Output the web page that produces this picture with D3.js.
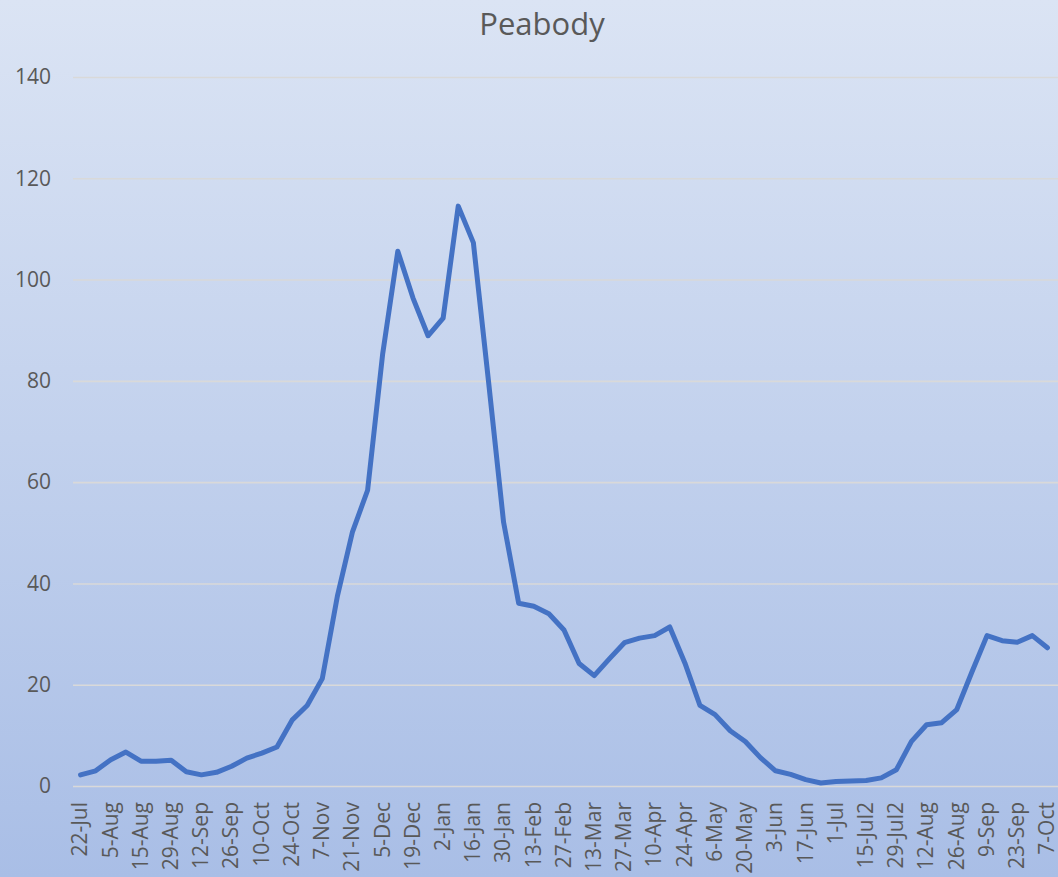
<!DOCTYPE html>
<html>
<head>
<meta charset="utf-8">
<script src="https://cdn.jsdelivr.net/npm/d3@7"></script>
<style>
  html, body { margin: 0; padding: 0; }
  body { width: 1058px; height: 877px; overflow: hidden; }
  text { font-family: "Open Sans", "Noto Sans", sans-serif; fill: #595959; }
</style>
</head>
<body>
<div id="chart"></div>
<script>
const title = 'Peabody';

// every other category gets a label on the axis
const tickLabels = ['22-Jul', '5-Aug', '15-Aug', '29-Aug', '12-Sep', '26-Sep', '10-Oct', '24-Oct',
  '7-Nov', '21-Nov', '5-Dec', '19-Dec', '2-Jan', '16-Jan', '30-Jan', '13-Feb', '27-Feb',
  '13-Mar', '27-Mar', '10-Apr', '24-Apr', '6-May', '20-May', '3-Jun', '17-Jun', '1-Jul',
  '15-Jul2', '29-Jul2', '12-Aug', '26-Aug', '9-Sep', '23-Sep', '7-Oct'];

const values = [2.2, 3.0, 5.2, 6.7, 4.9, 4.9, 5.1, 2.8, 2.2, 2.7,
  3.9, 5.5, 6.5, 7.7, 13.0, 15.9, 21.2, 37.5, 50.2, 58.4,
  85.4, 105.6, 96.4, 88.9, 92.4, 114.5, 107.3, 80.0, 52.1, 36.1,
  35.5, 34.0, 30.8, 24.2, 21.8, 25.1, 28.3, 29.2, 29.7, 31.4,
  24.3, 15.9, 14.1, 10.9, 8.8, 5.6, 3.0, 2.3, 1.25, 0.6,
  0.9, 1.0, 1.1, 1.6, 3.2, 8.8, 12.1, 12.5, 15.1, 22.5,
  29.7, 28.7, 28.4, 29.7, 27.3];

const yTicks = [0, 20, 40, 60, 80, 100, 120, 140];

const width = 1058, height = 877;
const margin = { top: 77, right: 3, bottom: 91, left: 73 };

const svg = d3.select('#chart')
  .append('svg')
  .attr('width', width)
  .attr('height', height);

const grad = svg.append('defs')
  .append('linearGradient')
  .attr('id', 'bg')
  .attr('x1', 0).attr('y1', 0).attr('x2', 0).attr('y2', 1);
grad.append('stop').attr('offset', '0%').attr('stop-color', '#dbe4f4');
grad.append('stop').attr('offset', '100%').attr('stop-color', '#a9bee6');

svg.append('rect')
  .attr('width', width)
  .attr('height', height)
  .attr('fill', 'url(#bg)');

const x = d3.scalePoint()
  .domain(d3.range(values.length))
  .range([margin.left, width - margin.right])
  .padding(0.5);

const y = d3.scaleLinear()
  .domain([0, 140])
  .range([height - margin.bottom, margin.top]);

// y axis + gridlines (run to the right edge)
const yAxis = svg.append('g')
  .attr('transform', `translate(${margin.left},0)`)
  .call(d3.axisLeft(y)
    .tickValues(yTicks)
    .tickSize(-(width - margin.left))
    .tickPadding(22));
yAxis.select('.domain').remove();
yAxis.selectAll('.tick line')
  .attr('stroke', '#d9d9d9')
  .attr('stroke-width', 1.6);
yAxis.selectAll('.tick text')
  .style('font-size', '21px')
  .attr('fill', '#595959');

// x axis labels, rotated
const xAxis = svg.append('g')
  .attr('transform', `translate(0,${height - margin.bottom})`)
  .call(d3.axisBottom(x)
    .tickValues(d3.range(0, values.length, 2))
    .tickFormat(i => tickLabels[i / 2])
    .tickSize(0));
xAxis.select('.domain').remove();
xAxis.selectAll('.tick text')
  .style('font-size', '21px')
  .attr('fill', '#595959')
  .attr('text-anchor', 'end')
  .attr('transform', 'rotate(-90)')
  .attr('x', -16)
  .attr('y', 0)
  .attr('dy', '0.3em');

const line = d3.line()
  .x((d, i) => x(i))
  .y(d => y(d));

svg.append('path')
  .datum(values)
  .attr('fill', 'none')
  .attr('stroke', '#4472c4')
  .attr('stroke-width', 5)
  .attr('stroke-linejoin', 'round')
  .attr('stroke-linecap', 'round')
  .attr('d', line);

svg.append('text')
  .attr('x', 542)
  .attr('y', 35)
  .attr('text-anchor', 'middle')
  .style('font-size', '31px')
  .text(title);
</script>
</body>
</html>
